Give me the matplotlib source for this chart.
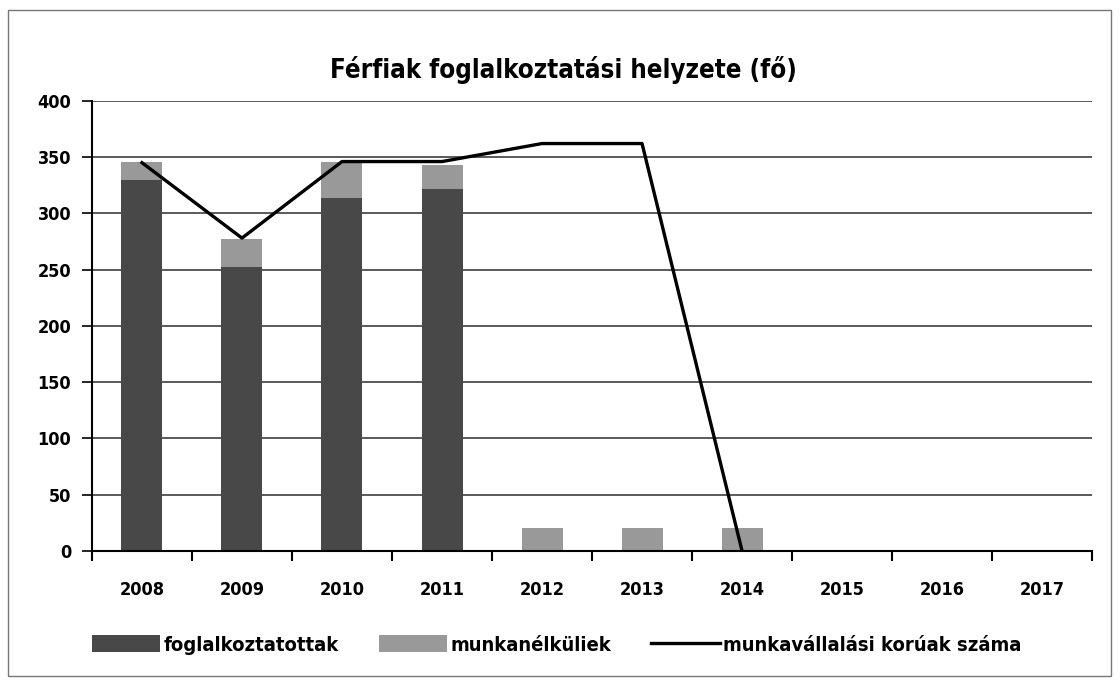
import numpy as np
import matplotlib.pyplot as plt
from matplotlib.patches import Rectangle

# data
years = ['2008', '2009', '2010', '2011', '2012', '2013', '2014', '2015', '2016', '2017']
foglalkoztatottak = [330, 252, 314, 322, 0, 0, 0, 0, 0, 0]
munkanelkuliek = [16, 25, 32, 21, 20, 20, 20, 0, 0, 0]
munkavallalasi_koruak = [345, 278, 346, 346, 362, 362, 0]

plt.rcParams['font.family'] = ['DejaVu Sans']
plt.rcParams['font.stretch'] = 'condensed'

fig = plt.figure(figsize=(11.2, 6.81), dpi=100)
ax = fig.add_axes([0.0821, 0.191, 0.893, 0.661])

x = np.arange(len(years))
b1 = ax.bar(x, foglalkoztatottak, width=0.41, color='#484848', zorder=2,
            label='foglalkoztatottak')
b2 = ax.bar(x, munkanelkuliek, width=0.41, bottom=foglalkoztatottak, color='#999999',
            zorder=2, label='munkanélküliek')
l1, = ax.plot(x[:len(munkavallalasi_koruak)], munkavallalasi_koruak, color='black', lw=2.4,
              zorder=3, label='munkavállalási korúak száma')

ax.set_xlim(-0.5, len(years) - 0.5)
ax.set_ylim(0, 400)
ax.set_yticks(np.arange(0, 401, 50))
ax.set_xticks(x)
ax.set_xticklabels(years)
ax.set_xticks(np.arange(-0.5, len(years)), minor=True)
ax.yaxis.grid(True, color='#2e2e2e', lw=1.1, zorder=0)
ax.set_axisbelow(True)

for s in ['top', 'right']:
    ax.spines[s].set_visible(False)
ax.spines['left'].set_linewidth(1.5)
ax.spines['bottom'].set_linewidth(1.5)

ax.tick_params(axis='y', length=7, width=1.2, pad=8, labelsize=13)
ax.tick_params(axis='x', which='major', length=0, pad=22, labelsize=13)
ax.tick_params(axis='x', which='minor', length=7, width=1.5)
for lab in ax.get_xticklabels() + ax.get_yticklabels():
    lab.set_fontweight('bold')

fig.text(0.503, 0.897, 'Férfiak foglalkoztatási helyzete (fő)', ha='center', va='center',
         fontsize=18.5, fontweight='bold')

fig.legend(handles=[b1, b2, l1], loc='center', bbox_to_anchor=(0.497, 0.053), ncol=3,
           frameon=False, handlelength=3.4, handleheight=0.9, columnspacing=2.0,
           handletextpad=0.15, prop={'weight': 'bold', 'size': 14.5, 'stretch': 'condensed'})

fig.patches.append(Rectangle((0.007, 0.008), 0.985, 0.978, transform=fig.transFigure,
                             fill=False, edgecolor='#777777', lw=1))

fig.savefig('out.png', dpi=100)
